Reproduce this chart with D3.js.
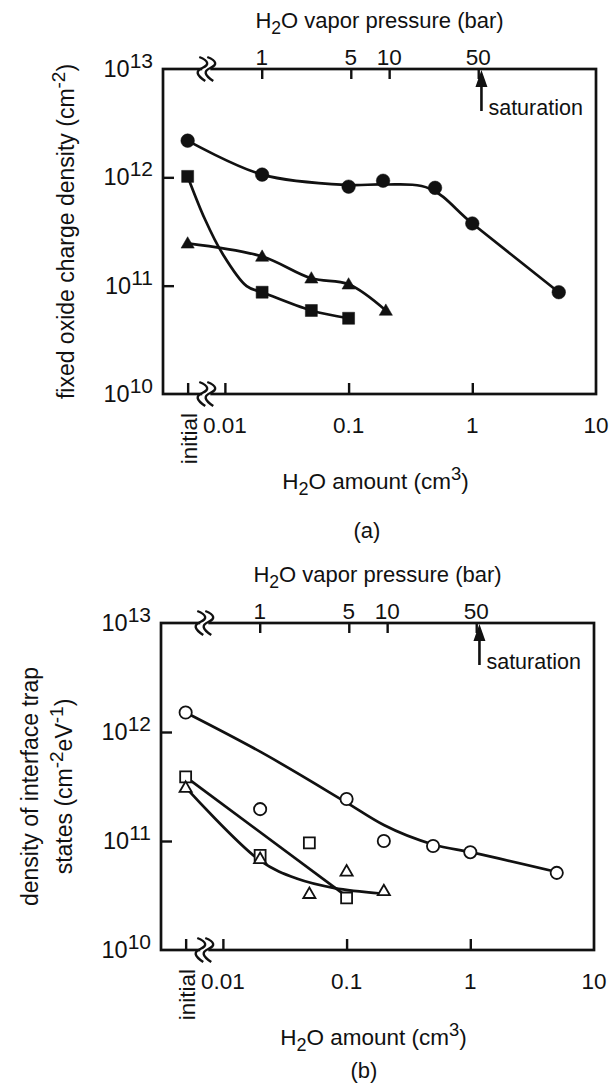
<!DOCTYPE html>
<html><head><meta charset="utf-8">
<script src="https://cdn.jsdelivr.net/npm/d3@7"></script>
<style>
body{margin:0;background:#fff}
svg text{font-family:"Liberation Sans",Arial,Helvetica,sans-serif;fill:#111}
</style>
</head><body>
<svg id="c" width="616" height="1092"></svg>
<script>
// ---------------- data ----------------
const INITIAL = 0.005;              // axis position used for the "initial" state
const BREAK_AT = 0.00707;           // axis break between "initial" and 0.01
const amountDomain = [0.00316, 10];
const pressureDomain = [0.168, 420];
const yDomain = [1e10, 1e13];
const xTickValues = [INITIAL, 0.01, 0.1, 1];
const xLabelValues = [0.01, 0.1, 1, 10];
const xLabelTexts = ["0.01", "0.1", "1", "10"];
const presTickValues = [1, 5, 10, 50];
const presTickTexts = ["1", "5", "10", "50"];
const yInnerTicks = [1e11, 1e12];
const yLabelValues = [1e10, 1e11, 1e12, 1e13];
const yLabelExps = ["10", "11", "12", "13"];
const saturationPressure = 53;

// panel (a): fixed oxide charge density (filled markers)
const aCircleX = [INITIAL, 0.02, 0.1, 0.19, 0.5, 1, 5];
const aCircleY = [2.18e12, 1.06e12, 8.2e11, 9.3e11, 8.0e11, 3.75e11, 8.7e10];
const aSquareX = [INITIAL, 0.02, 0.05, 0.1];
const aSquareY = [1.02e12, 8.7e10, 5.9e10, 5.0e10];
const aTriX = [INITIAL, 0.02, 0.05, 0.1, 0.2];
const aTriY = [2.46e11, 1.86e11, 1.17e11, 1.03e11, 5.9e10];
// curves drawn through (a)
const aCircleFitX = [INITIAL, 0.02, 0.1, 0.19, 0.45, 1, 5];
const aCircleFitY = [2.18e12, 1.06e12, 8.5e11, 8.6e11, 7.9e11, 3.75e11, 8.7e10];
const aSquareFitX = [INITIAL, 0.0069, 0.0095, 0.015, 0.02, 0.05, 0.1];
const aSquareFitY = [1.02e12, 4.1e11, 2.0e11, 9.9e10, 8.7e10, 5.9e10, 5.0e10];
const aTriFitX = [INITIAL, 0.02, 0.05, 0.1, 0.2];
const aTriFitY = [2.46e11, 1.86e11, 1.17e11, 1.03e11, 5.9e10];

// panel (b): density of interface trap states (open markers)
const bCircleX = [INITIAL, 0.02, 0.1, 0.2, 0.5, 1, 5];
const bCircleY = [1.51e12, 1.96e11, 2.43e11, 1.0e11, 9.0e10, 7.9e10, 5.1e10];
const bSquareX = [INITIAL, 0.02, 0.05, 0.1];
const bSquareY = [3.87e11, 7.4e10, 9.6e10, 3.0e10];
const bTriX = [INITIAL, 0.02, 0.05, 0.1, 0.2];
const bTriY = [3.1e11, 6.9e10, 3.3e10, 5.3e10, 3.5e10];
// fitted curves of (b)
const bCircleFitX = [INITIAL, 0.02, 0.1, 0.2, 0.5, 1, 5];
const bCircleFitY = [1.51e12, 6.6e11, 2.25e11, 1.4e11, 9.3e10, 7.9e10, 5.2e10];
const bSquareFitX = [INITIAL, 0.1];
const bSquareFitY = [3.87e11, 3.1e10];
const bTriFitX = [INITIAL, 0.02, 0.04, 0.08, 0.19];
const bTriFitY = [3.1e11, 6.6e10, 4.5e10, 3.7e10, 3.3e10];

// ---------------- drawing ----------------
const svg = d3.select("#c");
const INK = "#111";
const zip = (xs, ys) => xs.map((x, i) => ({x, y: ys[i]}));

const panels = [
  {top: 69, bottom: 394, left: 163, right: 596, filled: true, caption: "(a)", capX: 367, capDy: 144,
   yTitleX: [74], twoLine: false,
   series: [
     {shape: d3.symbolCircle, size: 145, pts: zip(aCircleX, aCircleY), fit: zip(aCircleFitX, aCircleFitY), curve: d3.curveCatmullRom.alpha(0.5)},
     {shape: d3.symbolSquare, size: 144, pts: zip(aSquareX, aSquareY), fit: zip(aSquareFitX, aSquareFitY), curve: d3.curveCatmullRom.alpha(0.5)},
     {shape: d3.symbolTriangle, size: 75, pts: zip(aTriX, aTriY), fit: zip(aTriFitX, aTriFitY), curve: d3.curveCatmullRom.alpha(0.5)}
   ]},
  {top: 623, bottom: 950, left: 161, right: 594, filled: false, caption: "(b)", capX: 364, capDy: 128,
   yTitleX: [38, 72], twoLine: true,
   series: [
     {shape: d3.symbolCircle, size: 118, pts: zip(bCircleX, bCircleY), fit: zip(bCircleFitX, bCircleFitY), curve: d3.curveMonotoneX},
     {shape: d3.symbolSquare, size: 120, pts: zip(bSquareX, bSquareY), fit: zip(bSquareFitX, bSquareFitY), curve: d3.curveLinear},
     {shape: d3.symbolTriangle, size: 64, pts: zip(bTriX, bTriY), fit: zip(bTriFitX, bTriFitY), curve: d3.curveCatmullRom.alpha(0.5)}
   ]}
];

function h2o(x, y, size, rest) {
  const el = svg.append("text").attr("x", x).attr("y", y).attr("text-anchor", "middle").attr("font-size", size);
  el.append("tspan").text("H");
  el.append("tspan").attr("dy", 6).attr("font-size", size * 0.8).text("2");
  el.append("tspan").attr("dy", -6).text("O " + rest[0]);
  if (rest.length > 1) {
    el.append("tspan").attr("dy", -9).attr("font-size", size * 0.82).text(rest[1]);
    el.append("tspan").attr("dy", 9).text(rest[2]);
  }
  return el;
}

panels.forEach((p) => {
  const x = d3.scaleLog().domain(amountDomain).range([p.left, p.right]);
  const xp = d3.scaleLog().domain(pressureDomain).range([p.left, p.right]);
  const y = d3.scaleLog().domain(yDomain).range([p.bottom, p.top]);
  const g = svg.append("g");

  // fitted curves
  p.series.forEach(s => {
    const line = d3.line().x(d => x(d.x)).y(d => y(d.y)).curve(s.curve);
    g.append("path").attr("d", line(s.fit)).attr("fill", "none").attr("stroke", INK).attr("stroke-width", 2.7)
      .attr("stroke-linejoin", "round");
  });
  // markers
  p.series.forEach(s => {
    g.selectAll(null).data(s.pts).join("path")
      .attr("transform", d => `translate(${x(d.x)},${y(d.y) + (s.shape === d3.symbolTriangle ? 1 : 0)})`)
      .attr("d", d3.symbol().type(s.shape).size(s.size))
      .attr("fill", p.filled ? INK : "#fff")
      .attr("stroke", INK).attr("stroke-width", p.filled ? 0.5 : 1.8);
  });

  // frame
  g.append("rect").attr("x", p.left).attr("y", p.top).attr("width", p.right - p.left).attr("height", p.bottom - p.top)
    .attr("fill", "none").attr("stroke", INK).attr("stroke-width", 2.7);

  // inner ticks
  const axL = g.append("g").attr("transform", `translate(${p.left},0)`)
    .call(d3.axisRight(y).tickValues(yInnerTicks).tickSize(11).tickFormat(""));
  const axB = g.append("g").attr("transform", `translate(0,${p.bottom})`)
    .call(d3.axisTop(x).tickValues(xTickValues).tickSize(11).tickFormat(""));
  const axT = g.append("g").attr("transform", `translate(0,${p.top})`)
    .call(d3.axisBottom(xp).tickValues(presTickValues).tickSize(10).tickFormat(""));
  [axL, axB, axT].forEach(a => {
    a.select(".domain").remove();
    a.selectAll("line").attr("stroke", INK).attr("stroke-width", 2.4);
  });

  // y labels 10^n
  yLabelValues.forEach((v, i) => {
    const t = g.append("text").attr("x", p.left - 10).attr("y", y(v) + 8).attr("text-anchor", "end").attr("font-size", 23.5);
    t.append("tspan").text("10");
    t.append("tspan").attr("dy", -9).attr("font-size", 21).text(yLabelExps[i]);
  });
  // bottom labels
  xLabelValues.forEach((v, i) => {
    g.append("text").attr("x", x(v)).attr("y", p.bottom + 39).attr("text-anchor", "middle")
      .attr("font-size", 22.5).text(xLabelTexts[i]);
  });
  g.append("text").attr("transform", `translate(${x(INITIAL) + 9},${p.bottom + 19}) rotate(-90)`)
    .attr("text-anchor", "end").attr("font-size", 22.5).text("initial");
  // top labels
  presTickValues.forEach((v, i) => {
    g.append("text").attr("x", xp(v)).attr("y", p.top - 4).attr("text-anchor", "middle")
      .attr("font-size", 22.5).text(presTickTexts[i]);
  });

  // axis breaks
  const bx = x(BREAK_AT);
  [p.top, p.bottom].forEach(by => {
    g.append("rect").attr("x", bx - 4).attr("y", by - 3).attr("width", 8).attr("height", 6).attr("fill", "#fff");
    [-4, 4].forEach(dx => {
      const cx = bx + dx;
      g.append("path")
        .attr("d", `M${cx - 3},${by - 12} C${cx + 7},${by - 8} ${cx + 7},${by - 4} ${cx},${by - 1} S${cx - 6},${by + 6} ${cx + 3},${by + 12}`)
        .attr("fill", "none").attr("stroke", INK).attr("stroke-width", 2.4);
    });
  });

  // saturation arrow
  const sx = xp(saturationPressure);
  g.append("line").attr("x1", sx).attr("x2", sx).attr("y1", p.top + 42).attr("y2", p.top + 14)
    .attr("stroke", INK).attr("stroke-width", 2.6);
  g.append("path").attr("d", `M${sx},${p.top + 1} L${sx - 6},${p.top + 18} L${sx + 6},${p.top + 18} Z`).attr("fill", INK);
  g.append("text").attr("x", sx + 7).attr("y", p.top + 46).attr("font-size", 21.5).text("saturation");

  // titles
  const cx = (p.left + p.right) / 2;
  h2o(cx, p.top - 41, 22, ["vapor pressure (bar)"]);
  h2o(cx - 4, p.bottom + 95, 22.5, ["amount (cm", "3", ")"]);
  svg.append("text").attr("x", p.capX).attr("y", p.bottom + p.capDy).attr("text-anchor", "middle")
    .attr("font-size", 22).text(p.caption);

  const cy = (p.top + p.bottom) / 2;
  if (!p.twoLine) {
    const t = svg.append("text").attr("transform", `translate(${p.yTitleX[0]},${cy}) rotate(-90)`)
      .attr("text-anchor", "middle").attr("font-size", 23);
    t.append("tspan").text("fixed oxide charge density (cm");
    t.append("tspan").attr("dy", -9).attr("font-size", 19).text("-2");
    t.append("tspan").attr("dy", 9).text(")");
  } else {
    svg.append("text").attr("transform", `translate(${p.yTitleX[0]},${cy}) rotate(-90)`)
      .attr("text-anchor", "middle").attr("font-size", 23).text("density of interface trap");
    const t = svg.append("text").attr("transform", `translate(${p.yTitleX[1]},${cy}) rotate(-90)`)
      .attr("text-anchor", "middle").attr("font-size", 23);
    t.append("tspan").text("states (cm");
    t.append("tspan").attr("dy", -9).attr("font-size", 19).text("-2");
    t.append("tspan").attr("dy", 9).text("eV");
    t.append("tspan").attr("dy", -9).attr("font-size", 19).text("-1");
    t.append("tspan").attr("dy", 9).text(")");
  }
});
</script>
</body></html>
